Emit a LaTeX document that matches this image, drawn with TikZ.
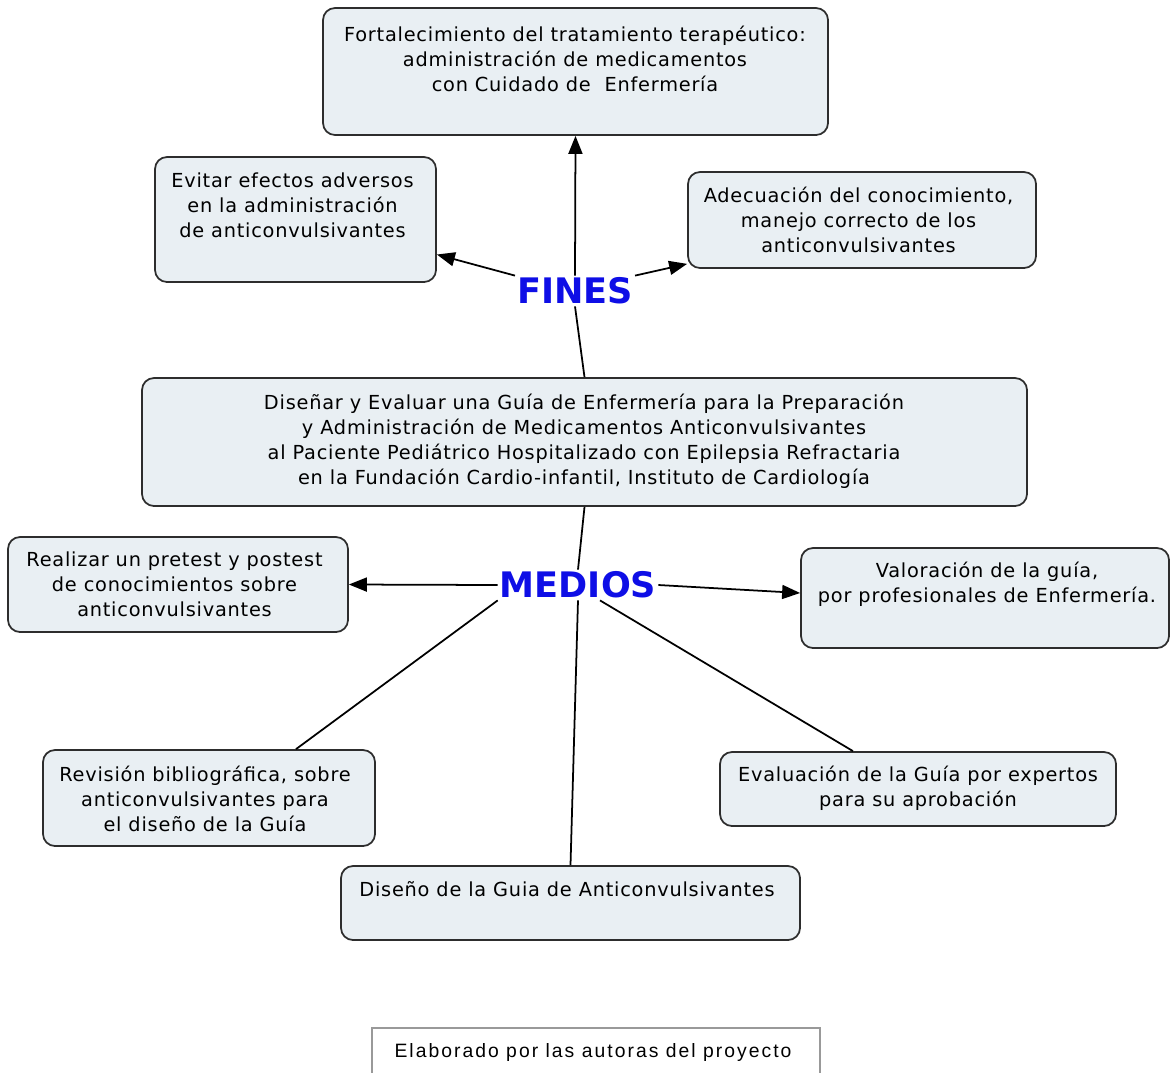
\documentclass[tikz,border=0pt]{standalone}
\usepackage{fontspec}
\setmainfont{DejaVu Sans}
\newfontfamily\cajafont[LetterSpace=4]{DejaVu Sans}
\newfontfamily\piefont[LetterSpace=10.5]{Liberation Sans}
\usetikzlibrary{arrows.meta,calc}

\definecolor{cajafondo}{RGB}{233,239,243}
\definecolor{cajaborde}{RGB}{45,45,45}
\definecolor{azultitulo}{RGB}{14,14,230}

\tikzset{
  caja/.style={draw=cajaborde, line width=1pt, fill=cajafondo, rounded corners=0.24cm, inner sep=0pt},
  texto/.style={align=center, inner sep=0pt, font=\cajafont\fontsize{11}{14.2}\selectfont},
  titulo/.style={text=azultitulo, inner sep=1pt, font={\fontsize{20}{24}\selectfont\bfseries}},
  flecha/.style={line width=1pt, -{Triangle[length=0.36cm,width=0.28cm]}},
  linea/.style={line width=1pt}
}

\begin{document}
\begin{tikzpicture}
	% 画布大小
	\useasboundingbox (0,0) rectangle (23.44,-21.44);

	% 上方的矩形
	\node[caja, minimum width=10.10cm, minimum height=2.54cm] (fort) at (11.51,-1.43) {};
	\node[texto] (fortT) at (11.50,-1.17) {Fortalecimiento del tratamiento terapéutico:\\administración de medicamentos\\con Cuidado de~ Enfermería};

	% 左上和右上的矩形
	\node[caja, minimum width=5.62cm, minimum height=2.50cm] (evi) at (5.91,-4.39) {};
	\node[texto] (eviT) at (5.85,-4.10) {Evitar efectos adversos\\en la administración\\de anticonvulsivantes};
	\node[caja, minimum width=6.96cm, minimum height=1.92cm] (ade) at (17.24,-4.40) {};
	\node[texto] (adeT) at (17.17,-4.40) {Adecuación del conocimiento,\\manejo correcto de los\\anticonvulsivantes};

	% 中间的矩形
	\node[caja, minimum width=17.70cm, minimum height=2.56cm] (cen) at (11.69,-8.84) {};
	\node[texto] (cenT) at (11.68,-8.82) {Diseñar y Evaluar una Guía de Enfermería para la Preparación\\y Administración de Medicamentos Anticonvulsivantes\\al Paciente Pediátrico Hospitalizado con Epilepsia Refractaria\\en la Fundación Cardio-infantil, Instituto de Cardiología};

	% 两个标题
	\node[titulo] (fines) at (11.50,-5.82) {FINES};
	\node[titulo] (medios) at (11.56,-11.70) {MEDIOS};

	% 下方的矩形
	\node[caja, minimum width=6.80cm, minimum height=1.90cm] (real) at (3.56,-11.69) {};
	\node[texto] (realT) at (3.49,-11.69) {Realizar un pretest y postest\\de conocimientos sobre\\anticonvulsivantes};
	\node[caja, minimum width=7.36cm, minimum height=2.00cm] (val) at (19.70,-11.96) {};
	\node[texto] (valT) at (19.74,-11.69) {Valoración de la guía,\\por profesionales de Enfermería.};
	\node[caja, minimum width=6.64cm, minimum height=1.92cm] (rev) at (4.18,-15.96) {};
	\node[texto] (revT) at (4.10,-15.97) {Revisión bibliográfica, sobre\\anticonvulsivantes para\\el diseño de la Guía};
	\node[caja, minimum width=7.92cm, minimum height=1.48cm] (eva) at (18.36,-15.78) {};
	\node[texto] (evaT) at (18.36,-15.77) {Evaluación de la Guía por expertos\\para su aprobación};
	\node[caja, minimum width=9.18cm, minimum height=1.48cm] (dis) at (11.41,-18.06) {};
	\node[texto] (disT) at (11.34,-17.78) {Diseño de la Guia de Anticonvulsivantes};

	% 连线
	\draw[flecha] (fines.north) -- (fort.south);
	\draw[flecha] (fines.north west) -- ([yshift=-0.70cm]evi.east);
	\draw[flecha] (fines.north east) -- ([yshift=0.10cm]ade.south west);
	\draw[linea] (cen.north) -- (fines.south);
	\draw[linea] (cen.south) -- (medios.north);
	\draw[flecha] (medios.west) -- (real.east);
	\draw[flecha] (medios.east) -- ([yshift=0.10cm]val.west);
	\draw[linea] (medios.south west) -- ([xshift=1.74cm]rev.north);
	\draw[linea] (medios.south) -- (dis.north);
	\draw[linea] ([xshift=0.44cm]medios.south) -- ([xshift=-1.30cm]eva.north);

	% 底部的说明
	\node[draw=gray!80, line width=1pt, fill=white, inner sep=0pt, minimum width=8.96cm, minimum height=1.20cm, anchor=north] (pie) at (11.92,-20.54) {};
	\node[inner sep=0pt, font=\piefont\fontsize{11}{13}\selectfont] (pieT) at (11.86,-21.04) {Elaborado por las autoras del proyecto};
\end{tikzpicture}
\end{document}
